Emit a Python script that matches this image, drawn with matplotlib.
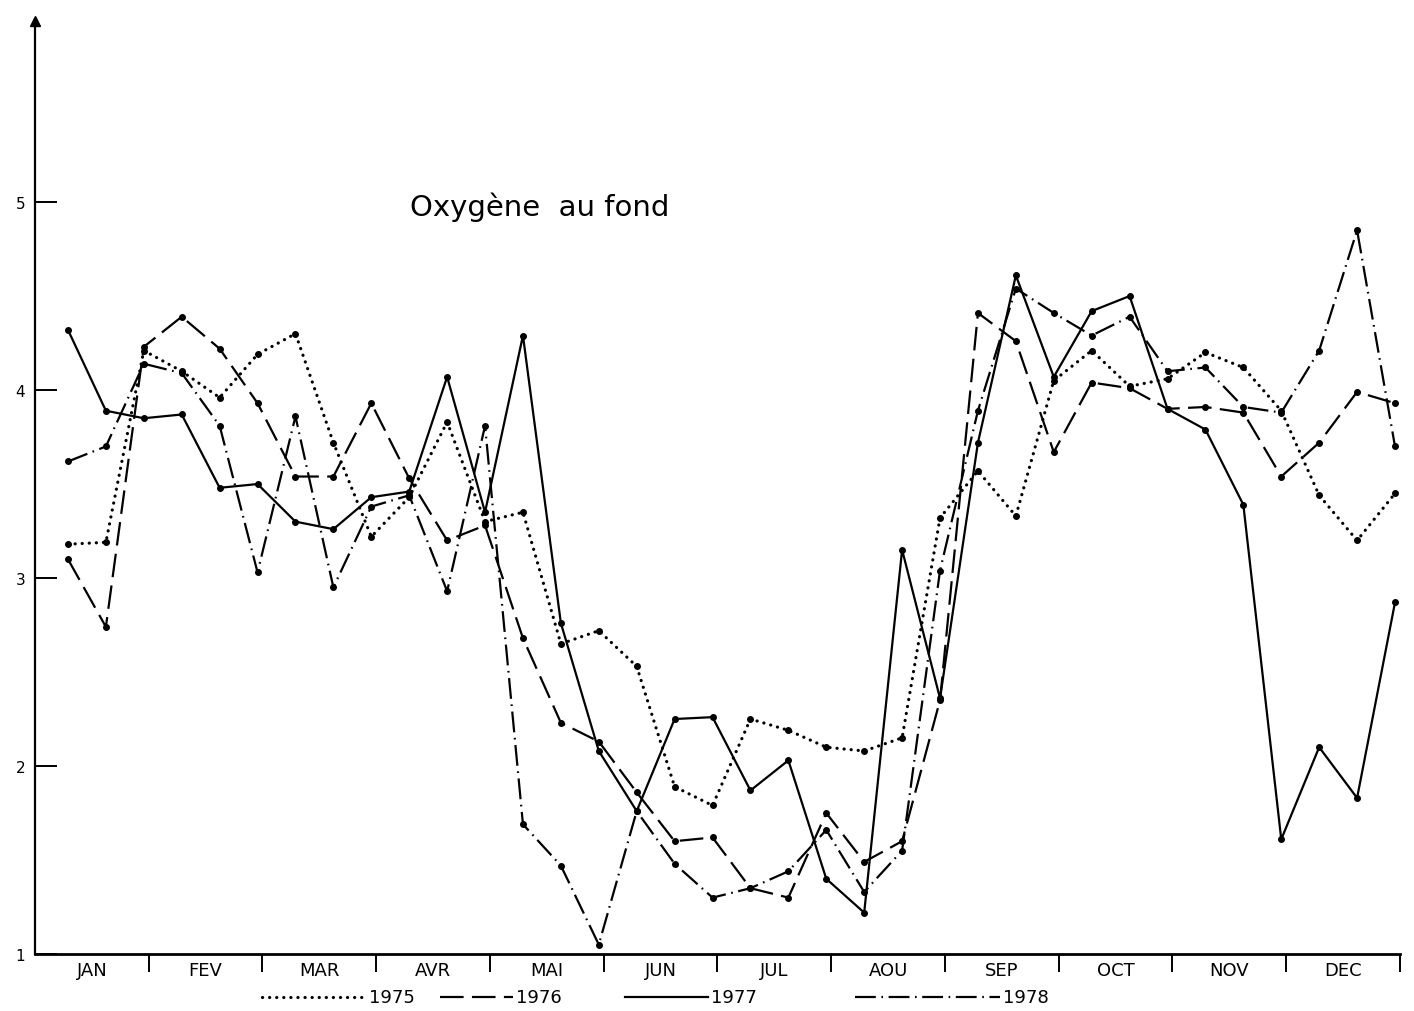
"""
Oxygene au fond : weekly bottom oxygen, 1975-1978.
"""

import numpy as np
import matplotlib
matplotlib.use('Agg')
import matplotlib.pyplot as plt
from matplotlib.lines import Line2D

plt.rcParams['lines.scale_dashes'] = False

months = ['JAN', 'FEV', 'MAR', 'AVR', 'MAI', 'JUN',
          'JUL', 'AOU', 'SEP', 'OCT', 'NOV', 'DEC']

# three readings per month (36 per year)
y1975 = [3.18, 3.19, 4.21, 4.10, 3.96, 4.19, 4.30, 3.72, 3.22, 3.43, 3.83, 3.30,
         3.35, 2.65, 2.72, 2.53, 1.89, 1.79, 2.25, 2.19, 2.10, 2.08, 2.15, 3.32,
         3.57, 3.33, 4.05, 4.21, 4.02, 4.06, 4.20, 4.12, 3.89, 3.44, 3.20, 3.45]

y1976 = [3.10, 2.74, 4.23, 4.39, 4.22, 3.93, 3.54, 3.54, 3.93, 3.53, 3.20, 3.28,
         2.68, 2.23, 2.13, 1.86, 1.60, 1.62, 1.35, 1.30, 1.75, 1.49, 1.60, 2.35,
         4.41, 4.26, 3.67, 4.04, 4.01, 3.90, 3.91, 3.88, 3.54, 3.72, 3.99, 3.93]

y1977 = [4.32, 3.89, 3.85, 3.87, 3.48, 3.50, 3.30, 3.26, 3.43, 3.46, 4.07, 3.35,
         4.29, 2.76, 2.08, 1.76, 2.25, 2.26, 1.87, 2.03, 1.40, 1.22, 3.15, 2.36,
         3.72, 4.61, 4.07, 4.42, 4.50, 3.90, 3.79, 3.39, 1.61, 2.10, 1.83, 2.87]

y1978 = [3.62, 3.70, 4.14, 4.09, 3.81, 3.03, 3.86, 2.95, 3.38, 3.44, 2.93, 3.81,
         1.69, 1.47, 1.05, 1.76, 1.48, 1.30, 1.35, 1.44, 1.66, 1.33, 1.55, 3.04,
         3.89, 4.54, 4.41, 4.29, 4.39, 4.10, 4.12, 3.91, 3.88, 4.21, 4.85, 3.70]

years = ['1975', '1976', '1977', '1978']

# position of each reading in month units (0 = start of JAN)
x = (np.arange(36) + 0.87) / 3.0

fig = plt.figure(figsize=(14.14, 10.12), dpi=100)
ax = fig.add_axes([0.02475, 0.05632, 0.9653, 0.9219])

styles = {
    '1975': dict(linestyle=(0, (0.1, 5.0)), dash_capstyle='round', lw=2.3),
    '1976': dict(linestyle=(0, (17, 6)), lw=1.6),
    '1977': dict(linestyle='-', lw=1.6),
    '1978': dict(linestyle=(0, (15, 4, 1.2, 4)), lw=1.6),
}
series = {'1975': y1975, '1976': y1976, '1977': y1977, '1978': y1978}

for yr in years:
    ax.plot(x, series[yr], color='black', **styles[yr])
    ax.plot(x, series[yr], 'o', color='black', ms=4, clip_on=False)

ax.set_xlim(0, 12)
ax.set_ylim(1, 5.963)

for s in ['top', 'right']:
    ax.spines[s].set_visible(False)
ax.spines['left'].set_linewidth(1.6)
ax.spines['bottom'].set_linewidth(2.0)

# arrow head on the y axis
ax.plot(0, 1, marker='^', color='black', ms=7, transform=ax.transAxes, clip_on=False)

ax.set_yticks([1, 2, 3, 4, 5])
ax.set_yticklabels(['1', '2', '3', '4', '5'], fontsize=11)
ax.tick_params(axis='y', direction='in', length=16, width=1.4, pad=7)

# month separators below the axis, names in between
ax.set_xticks(np.arange(1, 13))
ax.set_xticklabels([])
ax.tick_params(axis='x', which='major', direction='out', length=13, width=1.4)
ax.set_xticks(np.arange(12) + 0.5, minor=True)
ax.set_xticklabels(months, minor=True, fontsize=13)
ax.tick_params(axis='x', which='minor', length=0, pad=5)

ax.text(3.3, 4.98, 'Oxygène  au fond', fontsize=21, ha='left', va='center')

# key under the axis: sample line, then the year (figure fractions)
key_x = {'1975': (0.185, 0.259), '1976': (0.311, 0.363),
         '1977': (0.442, 0.501), '1978': (0.605, 0.707)}
key_y = 1 - 998 / 1012
for yr in years:
    x0, x1 = key_x[yr]
    fig.add_artist(Line2D([x0, x1], [key_y, key_y], color='black',
                          transform=fig.transFigure, **styles[yr]))
    fig.text(x1 + 0.002, key_y, yr, fontsize=13, ha='left', va='center')

fig.savefig('out.png', dpi=100)
